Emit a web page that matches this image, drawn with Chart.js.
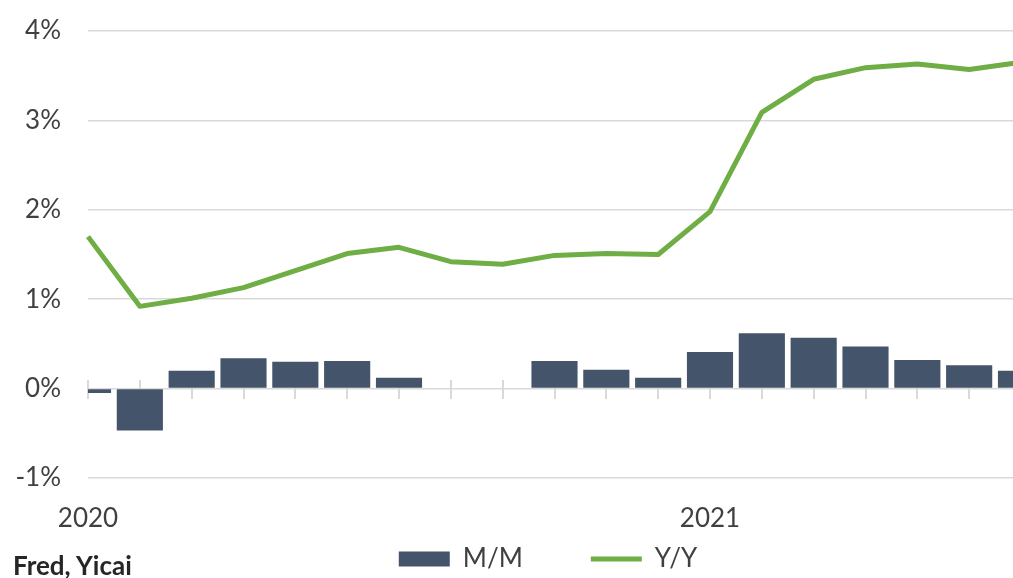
<!DOCTYPE html>
<html>
<head>
<meta charset="utf-8">
<script src="https://cdn.jsdelivr.net/npm/chart.js"></script>
<style>
  html, body { margin: 0; overflow: hidden; background: #fff; }
  #wrap { position: relative; width: 1013px; height: 578px; overflow: hidden; }
  #chart { position: absolute; left: 0; top: 0; }
  #source { position: absolute; left: 13px; top: 552px; font: bold 26px Lato; line-height: 26px; color: #262626; white-space: nowrap; }
</style>
</head>
<body>
<div id="wrap">
  <canvas id="chart" width="1096" height="582"></canvas>
  <div id="source">Fred, Yicai</div>
</div>
<script>
// monthly points, Jan 2020 .. Jul 2021
const months = [
  "2020-01", "2020-02", "2020-03", "2020-04", "2020-05", "2020-06", "2020-07",
  "2020-08", "2020-09", "2020-10", "2020-11", "2020-12",
  "2021-01", "2021-02", "2021-03", "2021-04", "2021-05", "2021-06", "2021-07"
];
const momValues = [
  -0.05, -0.47, 0.20, 0.34, 0.30, 0.31, 0.12,
  null, null, 0.31, 0.21, 0.12,
  0.41, 0.62, 0.57, 0.47, 0.32, 0.26, 0.20
];
const yoyValues = [
  1.70, 0.92, 1.01, 1.13, 1.32, 1.51, 1.58,
  1.42, 1.39, 1.49, 1.51, 1.50,
  1.98, 3.09, 3.46, 3.59, 3.63, 3.57, 3.65
];
const yMin = -1;
const yMax = 4;
const seriesNames = ["M/M", "Y/Y"];

Chart.defaults.font.family = "Lato";
Chart.defaults.font.size = 26;
Chart.defaults.color = "#404040";

new Chart(document.getElementById("chart"), {
  type: "bar",
  data: {
    labels: months,
    datasets: [
      {
        type: "bar",
        label: seriesNames[0],
        data: momValues,
        backgroundColor: "#44546a",
        borderWidth: 0,
        barPercentage: 0.89,
        categoryPercentage: 1,
        pointStyle: "rect",
        order: 1,
        clip: 0,
      },
      {
        type: "line",
        label: seriesNames[1],
        data: yoyValues,
        borderColor: "#6fad45",
        backgroundColor: "#6fad45",
        borderWidth: 5,
        pointRadius: 0,
        tension: 0,
        borderJoinStyle: "round",
        pointStyle: "line",
        order: 0,
      },
    ],
  },
  options: {
    responsive: false,
    animation: false,
    layout: { padding: { top: 31, right: 0, left: 0, bottom: 0 } },
    plugins: {
      tooltip: { enabled: false },
      legend: {
        position: "bottom",
        labels: {
          usePointStyle: true,
          pointStyleWidth: 51,
          boxHeight: 15,
          padding: 68,
          sort: (a, b) => a.datasetIndex - b.datasetIndex,
        },
      },
    },
    scales: {
      x: {
        type: "category",
        position: { y: 0.1 },
        offset: false,
        z: 1,
        grid: { offset: false, drawOnChartArea: false, tickLength: 19, color: "#d9d9d9", lineWidth: 2 },
        border: { display: false },
        ticks: { display: false },
      },
      xYear: {
        type: "category",
        axis: "x",
        labels: months,
        position: { y: yMin },
        offset: false,
        grid: { display: false },
        border: { display: false },
        ticks: {
          autoSkip: false,
          maxRotation: 0,
          padding: 17,
          callback: (v, i) => (months[i].endsWith("-01") ? months[i].slice(0, 4) : ""),
        },
      },
      y: {
        min: yMin,
        max: yMax,
        grid: { color: "#d9d9d9", lineWidth: 1.5, tickLength: 27, tickColor: "transparent" },
        border: { display: false },
        ticks: { stepSize: 1, padding: 0, callback: (v) => v + "%" },
        afterFit: (scale) => {
          scale.width = 88;
        },
      },
      // empty right axis, keeps the plot edge where the source crop cut it
      yRight: {
        axis: "y",
        position: "right",
        min: yMin,
        max: yMax,
        grid: { display: false },
        border: { display: false },
        ticks: { display: false, padding: 0 },
        afterFit: (scale) => {
          scale.width = 75;
        },
      },
    },
  },
});
</script>
</body>
</html>
